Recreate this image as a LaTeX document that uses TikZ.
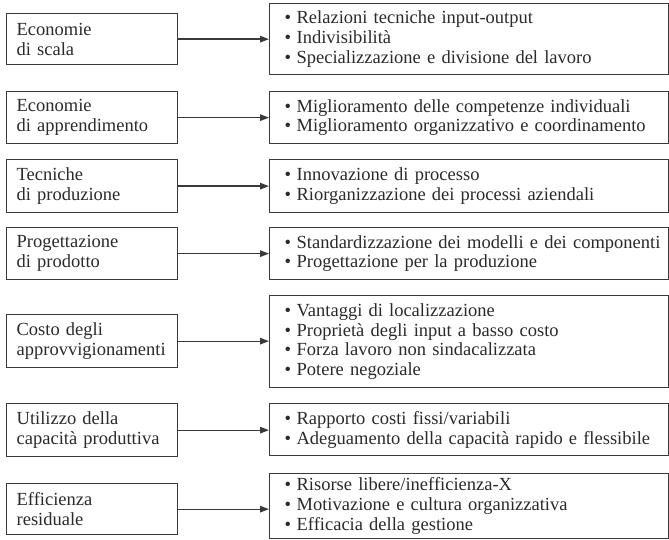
\documentclass[tikz,border=0pt]{standalone}
\usepackage{fontspec}
\setmainfont{Liberation Serif}
\usetikzlibrary{arrows.meta}
\definecolor{linec}{HTML}{3A3A3A}
\definecolor{textc}{HTML}{2A2A2A}
\newcommand{\fs}{\fontsize{18.5}{19.8}\selectfont}
\newcommand{\bl}[1]{\mbox{\makebox[12pt][l]{\textbullet}#1}}
\begin{document}
\begin{tikzpicture}[x=1pt,y=-1pt,
  lbox/.style={draw=linec, line width=1.3pt, anchor=north west, minimum width=171pt,
    text width=151pt, align=left, inner xsep=10pt, inner ysep=0pt, font=\fs, text=textc},
  rbox/.style={draw=linec, line width=1.3pt, anchor=north west, minimum width=399pt,
    text width=369pt, align=left, inner xsep=15pt, inner ysep=0pt, font=\fs, text=textc},
  conn/.style={draw=linec, line width=1.3pt, -{Triangle[length=9pt,width=6.5pt]}}]
\useasboundingbox (0,0) rectangle (669,540);
% row 1
\node[lbox, minimum height=51pt] (l1) at (6,13) {Economie\\di scala};
\node[rbox, minimum height=71pt] (r1) at (269,3) {\bl{Relazioni tecniche input-output}\\\bl{Indivisibilità}\\\bl{Specializzazione e divisione del lavoro}};
% row 2
\node[lbox, minimum height=52pt] (l2) at (6,91) {Economie\\di apprendimento};
\node[rbox, minimum height=52pt] (r2) at (269,91) {\bl{Miglioramento delle competenze individuali}\\\bl{Miglioramento organizzativo e coordinamento}};
% row 3
\node[lbox, minimum height=53pt] (l3) at (6,159) {Tecniche\\di produzione};
\node[rbox, minimum height=53pt] (r3) at (269,159) {\bl{Innovazione di processo}\\\bl{Riorganizzazione dei processi aziendali}};
% row 4
\node[lbox, minimum height=52pt] (l4) at (6,227) {Progettazione\\di prodotto};
\node[rbox, minimum height=52pt] (r4) at (269,227) {\bl{Standardizzazione dei modelli e dei componenti}\\\bl{Progettazione per la produzione}};
% row 5
\node[lbox, minimum height=53pt] (l5) at (6,314) {Costo degli\\approvvigionamenti};
\node[rbox, minimum height=92pt] (r5) at (269,295) {\bl{Vantaggi di localizzazione}\\\bl{Proprietà degli input a basso costo}\\\bl{Forza lavoro non sindacalizzata}\\\bl{Potere negoziale}};
% row 6
\node[lbox, minimum height=53pt] (l6) at (6,403) {Utilizzo della\\capacità produttiva};
\node[rbox, minimum height=52pt] (r6) at (269,403) {\bl{Rapporto costi fissi/variabili}\\\bl{Adeguamento della capacità rapido e flessibile}};
% row 7
\node[lbox, minimum height=51pt] (l7) at (6,483) {Efficienza\\residuale};
\node[rbox, minimum height=65pt] (r7) at (269,473) {\bl{Risorse libere/inefficienza-X}\\\bl{Motivazione e cultura organizzativa}\\\bl{Efficacia della gestione}};
% connectors
\foreach \i in {1,...,7}{
  \draw[conn] (l\i.east) -- (l\i.east -| r\i.west);
}
\end{tikzpicture}
\end{document}
